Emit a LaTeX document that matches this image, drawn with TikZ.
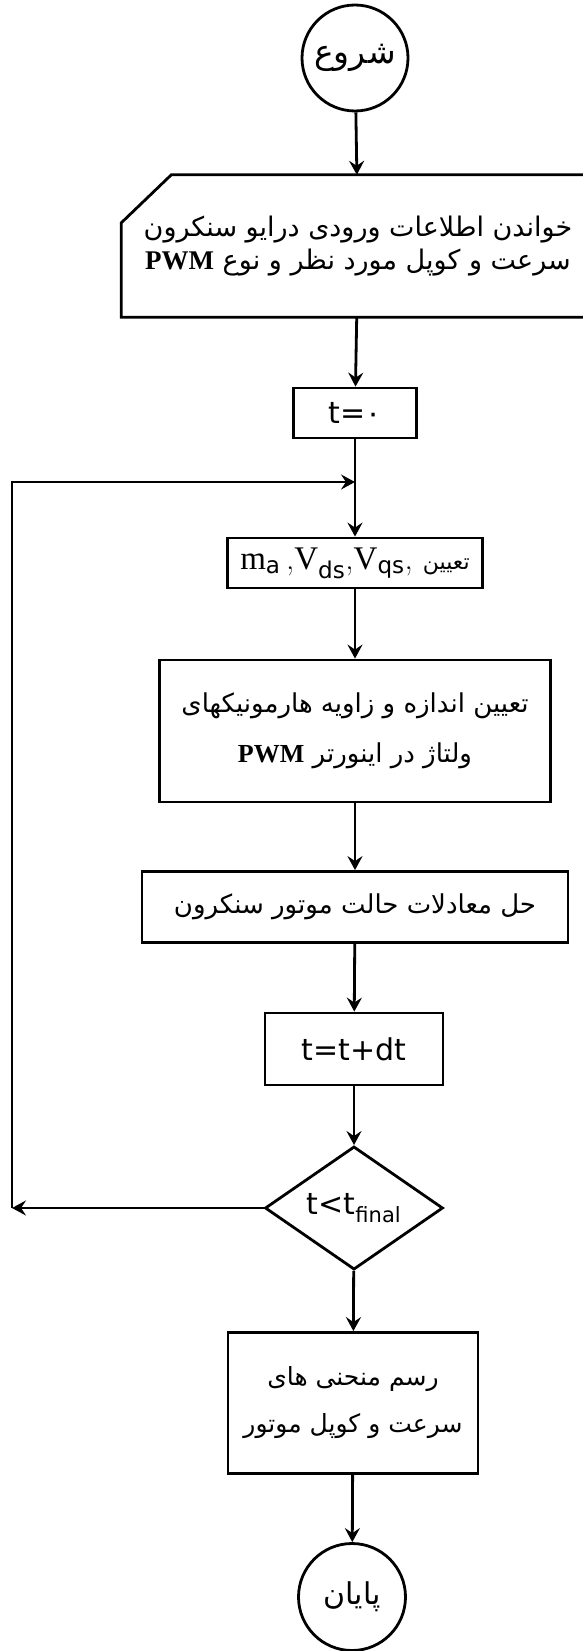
\documentclass[tikz,border=0pt]{standalone}
\usepackage{fontspec}
\setsansfont{DejaVu Sans}
\newfontfamily\farsi[Script=Arabic]{DejaVu Sans}
\newfontfamily\latserif{Liberation Serif}
\TeXXeTstate=1
\usetikzlibrary{shapes.geometric,arrows.meta}

\newcommand{\pwm}{\beginL{\latserif\bfseries PWM}\endL}

\begin{document}
\begin{tikzpicture}[x=1pt,y=-1pt,
    every node/.style={font=\fontsize{26}{32}\selectfont},
    proc/.style={draw,line width=2.8pt,rectangle,align=center,inner sep=0pt},
    term/.style={draw,line width=2.8pt,circle,minimum size=106pt,inner sep=0pt},
    decide/.style={draw,line width=2.8pt,diamond,minimum width=178pt,minimum height=107pt,inner sep=0pt},
    lat/.style={font=\fontsize{30}{34}\sffamily},
    flow/.style={line width=2.8pt,-{Stealth[length=14pt,width=15pt,inset=5pt]}}]
  \useasboundingbox (0,0) rectangle (583,1651);

  \node[term,font=\fontsize{33}{38}\selectfont] (start) at (355,58) {\farsi\beginR شروع\endR};
  % manual input box, its right side runs off the page
  \node[align=center,minimum width=473pt,minimum height=142pt,font=\fontsize{27}{33}\selectfont] (input) at (358,246)
    {\farsi\beginR خواندن اطلاعات ورودی درایو سنکرون\endR\\
     \farsi\beginR سرعت و کوپل مورد نظر و نوع \pwm\endR};
  \draw[line width=2.8pt] ([xshift=50pt]input.north west) -- (input.north east)
    -- (input.south east) -- (input.south west) -- ([yshift=-48pt]input.north west) -- cycle;
  \node[proc,lat,minimum width=123pt,minimum height=50pt] (tzero) at (355,413)
    {t={\farsi ۰}};
  \coordinate (join) at (355,482);
  \node[proc,minimum width=255pt,minimum height=50pt,font=\fontsize{33}{36}\selectfont] (assign) at (355,563)
    {{\latserif m}\textsubscript{\sffamily a}\,,{\latserif V}\textsubscript{\sffamily ds},{\latserif V}\textsubscript{\sffamily qs},\
     {\fontsize{22}{26}\farsi\beginR تعیین\endR}};
  \node[proc,minimum width=391pt,minimum height=142pt] (harm) at (355,731)
    {\farsi\beginR تعیین اندازه و زاویه هارمونیکهای\endR\\[18pt]
     \farsi\beginR ولتاژ در اینورتر \pwm\endR};
  \node[proc,minimum width=426pt,minimum height=71pt] (solve) at (355,907)
    {\farsi\beginR حل معادلات حالت موتور سنکرون\endR};
  \node[proc,lat,minimum width=178pt,minimum height=72pt] (tstep) at (354,1049)
    {t=t+dt};
  \node[decide,lat] (check) at (354,1208) {t<t\textsubscript{final}};
  \node[proc,minimum width=250pt,minimum height=141pt,font=\fontsize{25}{31}\selectfont] (plot) at (353,1403)
    {\farsi\beginR رسم منحنی های\endR\\[16pt]
     \farsi\beginR سرعت و کوپل موتور\endR};
  \node[term,minimum size=107pt,font=\fontsize{30}{34}\selectfont] (stop) at (352,1597) {\farsi\beginR پایان\endR};

  \coordinate (lowleft) at (12,1208);
  \coordinate (upleft) at (12,482);

  \draw[flow] (start) -- (input);
  \draw[flow] (input) -- (tzero);
  \draw[flow] (tzero) -- (assign);
  \draw[flow] (assign) -- (harm);
  \draw[flow] (harm) -- (solve);
  \draw[flow] (solve) -- (tstep);
  \draw[flow] (tstep) -- (check);
  \draw[flow] (check) -- (plot);
  \draw[flow] (plot) -- (stop);
  % loop back
  \draw[flow] (check.west) -- (lowleft);
  \draw[flow] (lowleft) -- (upleft) -- (join);
\end{tikzpicture}
\end{document}
